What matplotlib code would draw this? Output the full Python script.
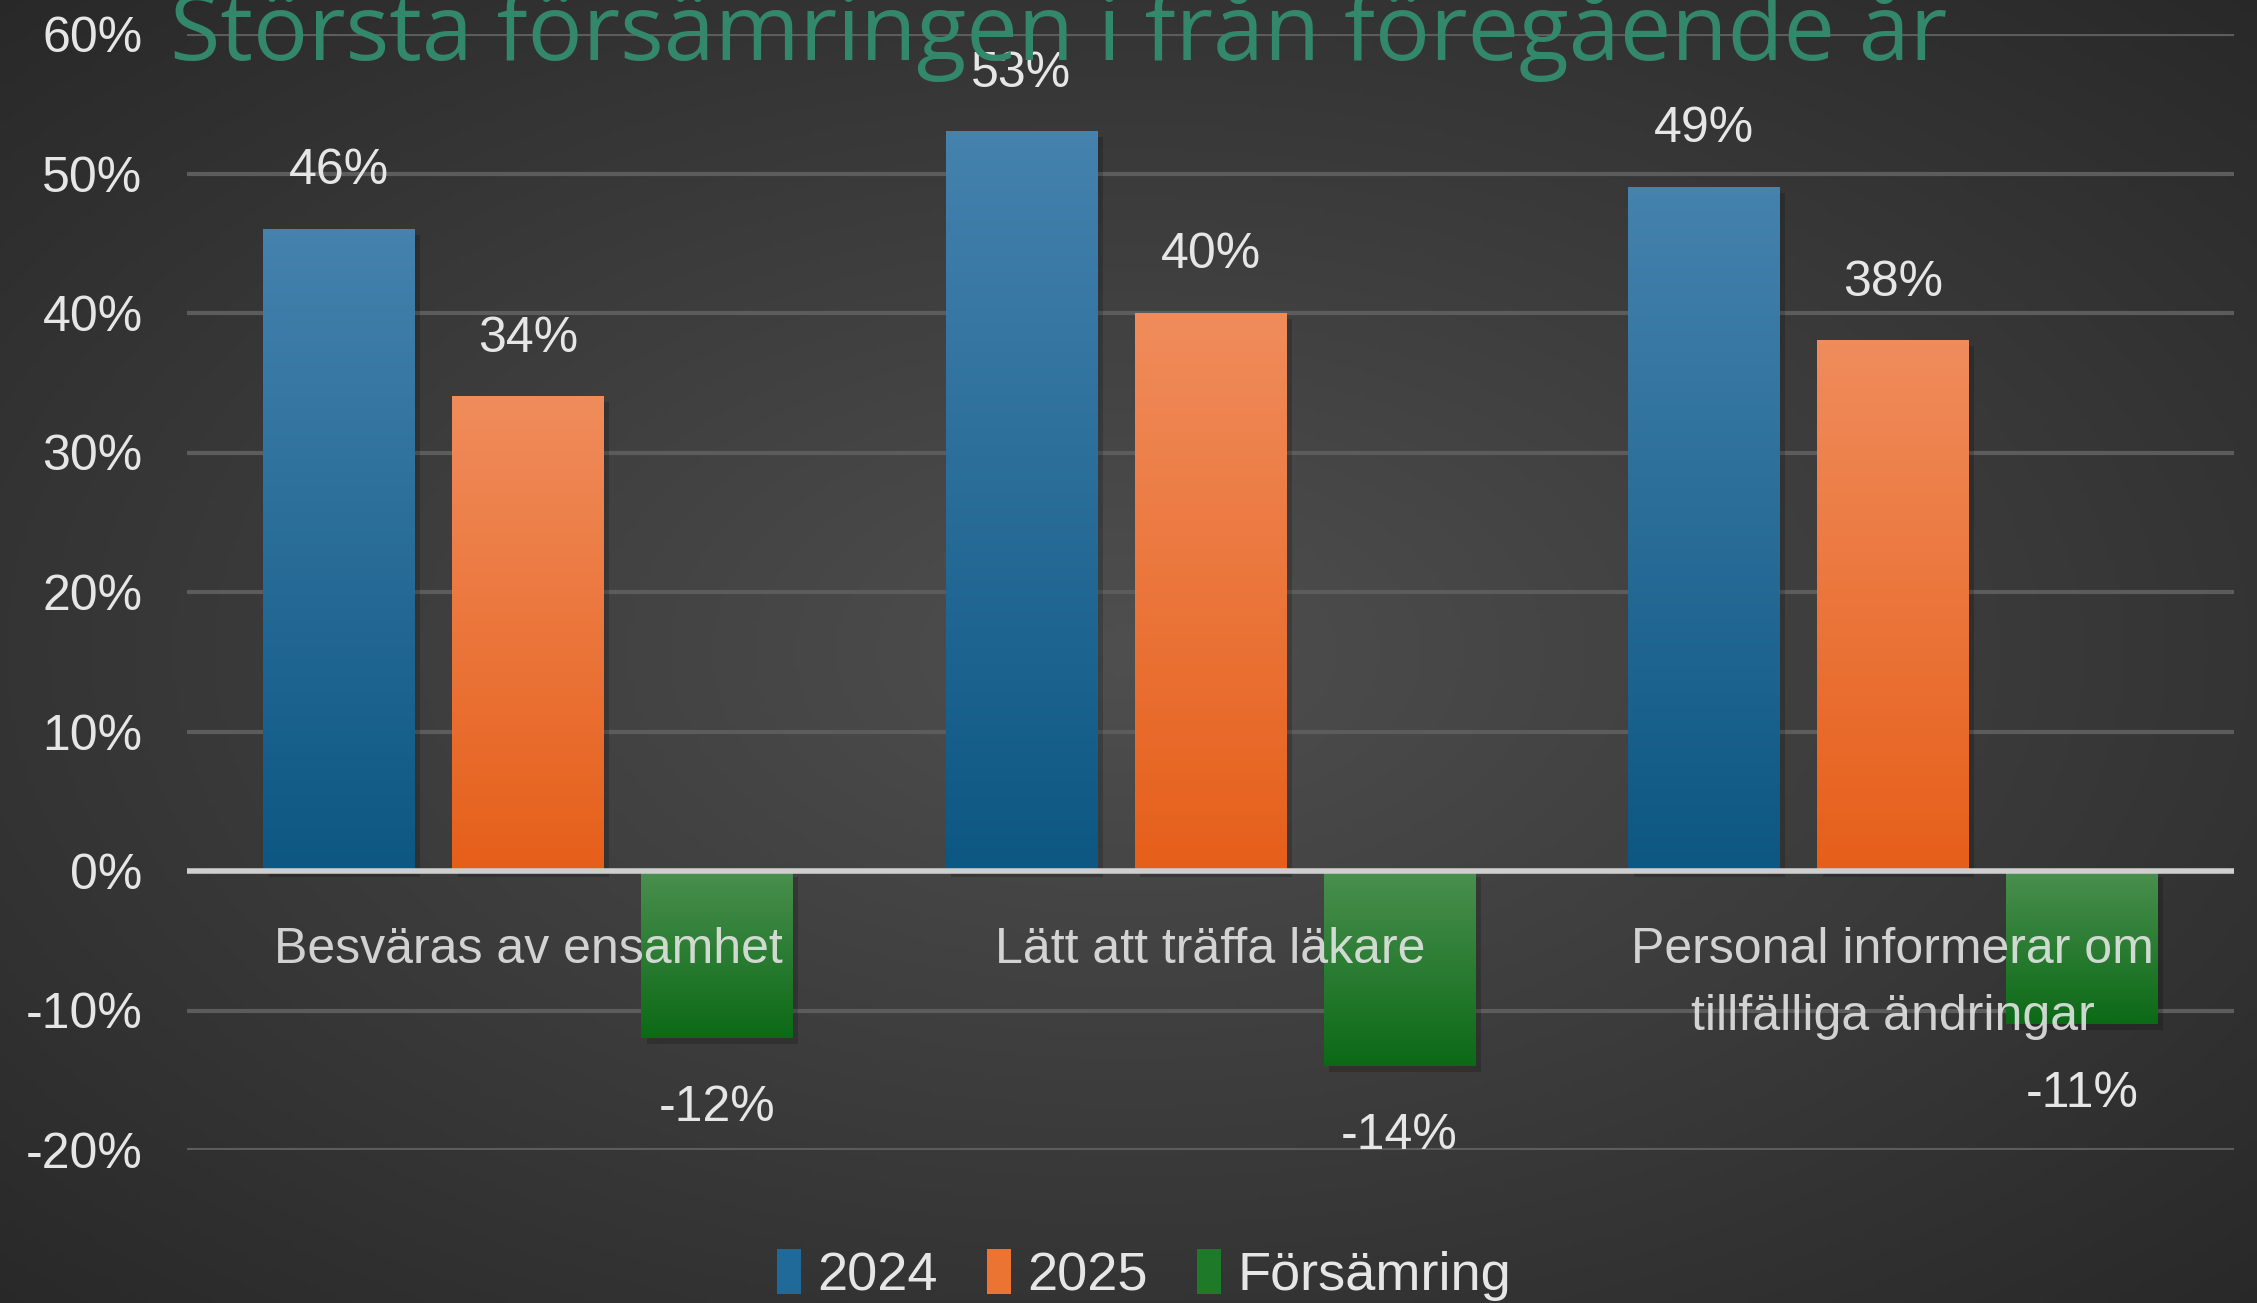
import numpy as np
import matplotlib
matplotlib.use("Agg")
import matplotlib.pyplot as plt
from matplotlib.patches import Patch
from matplotlib.ticker import PercentFormatter

plt.rcParams["axes.unicode_minus"] = False

# data
categories = ["Besväras av ensamhet", "Lätt att träffa läkare",
              "Personal informerar om\ntillfälliga ändringar"]
v2024 = [0.46, 0.53, 0.49]
v2025 = [0.34, 0.40, 0.38]
change = [-0.12, -0.14, -0.11]
series_names = ["2024", "2025", "Försämring"]
title = "Största försämringen i från föregående år"

FAM = ["Liberation Sans Narrow", "Liberation Sans"]
W, H = 2257, 1303
fig = plt.figure(figsize=(W / 100, H / 100), dpi=100)

# background: dark radial gradient
bg = fig.add_axes([0, 0, 1, 1], zorder=0)
yy, xx = np.mgrid[0:1:300j, 0:1:520j]
r = np.sqrt(((xx - 0.5) / 0.75) ** 2 + ((yy - 0.5) / 0.75) ** 2)
shade = np.clip(0.31 - 0.16 * r, 0.15, 0.31)
bg.imshow(np.dstack([shade] * 3), extent=[0, 1, 0, 1], aspect="auto", origin="lower")
bg.set_axis_off()

ax = fig.add_axes([187 / W, (H - 1150) / H, (2234 - 187) / W, (1150 - 34) / H], zorder=1)
ax.set_facecolor("none")

x = np.arange(len(categories))
width = 0.222
step = 0.277
grads = [("#4582ae", "#0d5783"), ("#f08c5c", "#e65f1a"), ("#4a8f4f", "#0c6a16")]
solid = ["#1f6a98", "#ec7433", "#1e7a28"]


def grad_bar(xc, val, top_c, bot_c):
    b = ax.bar(xc, val, width, color="none", zorder=3)[0]
    x0, y0 = b.get_x(), b.get_y()
    w, h = b.get_width(), b.get_height()
    c1 = np.array(matplotlib.colors.to_rgb(top_c))
    c2 = np.array(matplotlib.colors.to_rgb(bot_c))
    t = np.linspace(0, 1, 100)[:, None]
    img = (c1 * (1 - t) + c2 * t)[:, None, :]
    lo, hi = min(y0, y0 + h), max(y0, y0 + h)
    ax.imshow(img, extent=[x0, x0 + w, lo, hi], aspect="auto", origin="upper", zorder=3)
    # soft shadow
    ax.bar(xc + 0.008, val, w, bottom=-0.004, color="black", alpha=0.18, zorder=2)


for i, vals in enumerate([v2024, v2025, change]):
    for j, v in enumerate(vals):
        xc = x[j] + (i - 1) * step
        grad_bar(xc, v, *grads[i])
        off = 58 if v >= 0 else -70
        ax.annotate(f"{round(v * 100):d}%", (xc, v), xytext=(0, off), textcoords="offset pixels",
                    ha="center", va="center", color="#e6e6e6", fontsize=36,
                    family=FAM, zorder=5)

ax.set_xlim(-0.5, 2.5)
ax.set_ylim(-0.2, 0.6)
ax.set_yticks(np.arange(-0.2, 0.61, 0.1))
ax.yaxis.set_major_formatter(PercentFormatter(1.0, decimals=0))
ax.grid(axis="y", color="#5c5c5c", linewidth=3, zorder=1)
ax.axhline(0, color="#cfcfcf", linewidth=4, zorder=4)
ax.set_xticks([])
ax.tick_params(axis="y", length=0, pad=32, labelsize=36, labelcolor="#e6e6e6")
for lab in ax.get_yticklabels():
    lab.set_family(FAM)
for s in ax.spines.values():
    s.set_visible(False)

for j, cat in enumerate(categories):
    ax.text(x[j], -0.040, cat, ha="center", va="top", color="#e8e8e8", alpha=0.88,
            fontsize=36, linespacing=1.6, family=FAM, zorder=6)

handles = [Patch(facecolor=c) for c in solid]
leg = fig.legend(handles, series_names, loc="center", bbox_to_anchor=(1144 / W, 1 - 1275 / H),
                 ncol=3, frameon=False, handlelength=0.45, handleheight=0.9,
                 handletextpad=0.3, columnspacing=0.9,
                 prop={"family": FAM, "size": 39})
for t in leg.get_texts():
    t.set_color("#e6e6e6")

fig.text(170 / W, 1 - 60 / H, title, color="#33876a", fontsize=66, ha="left", va="baseline",
         family=["Open Sans", "DejaVu Sans"], zorder=10)

fig.savefig("out.png", dpi=100)
